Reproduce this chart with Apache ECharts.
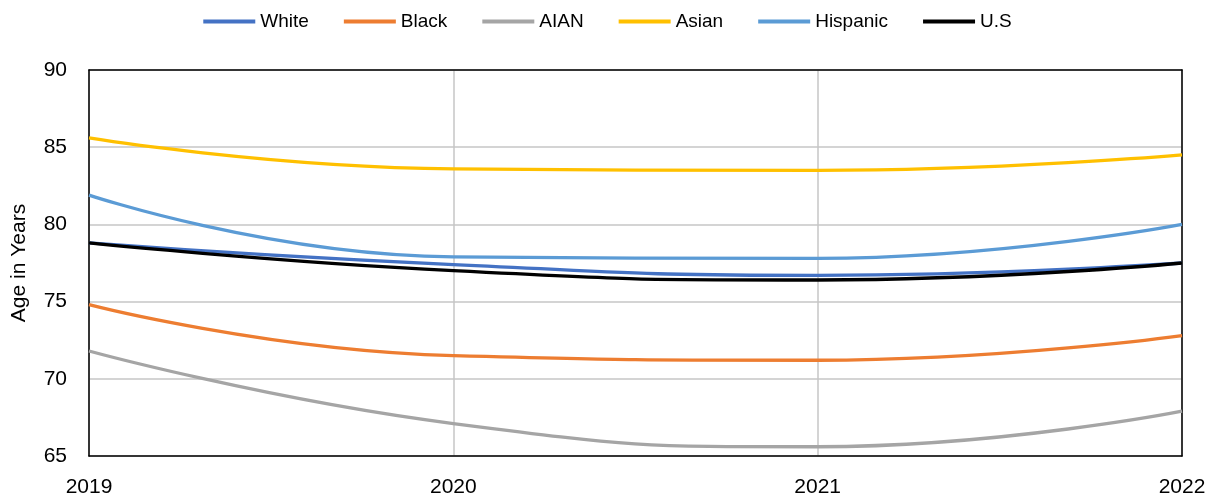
<!DOCTYPE html>
<html>
<head>
<meta charset="utf-8">
<script src="https://cdn.jsdelivr.net/npm/echarts@6/dist/echarts.min.js"></script>
<style>
  html, body { margin: 0; padding: 0; background: #fff; }
  #chart { width: 1215px; height: 500px; }
</style>
</head>
<body>
<div id="chart"></div>
<script>
const years = ['2019', '2020', '2021', '2022']

const white = [78.8, 77.4, 76.7, 77.5]
const black = [74.8, 71.5, 71.2, 72.8]
const aian = [71.8, 67.1, 65.6, 67.9]
const asian = [85.6, 83.6, 83.5, 84.5]
const hispanic = [81.9, 77.9, 77.8, 80.0]
const us = [78.8, 77.0, 76.4, 77.5]

const FONT = '"Liberation Sans", Arial, sans-serif'

const makeLine = (name, data, color) => ({
  name,
  type: 'line',
  data,
  smooth: 0.5,
  symbol: 'none',
  lineStyle: { width: 3.3, color },
  itemStyle: { color },
})

// 只画黑色边框的辅助轴
const frameLine = { show: true, lineStyle: { color: '#000', width: 1.5 } }

const chart = echarts.init(document.getElementById('chart'))

chart.setOption({
  backgroundColor: '#fff',
  animation: false,
  legend: {
    top: 7,
    left: 'center',
    itemWidth: 52,
    itemHeight: 4,
    itemGap: 35,
    icon: 'rect',
    textStyle: { fontFamily: FONT, fontSize: 19, color: '#000' },
    data: ['White', 'Black', 'AIAN', 'Asian', 'Hispanic', 'U.S'],
  },
  grid: {
    left: 89,
    right: 33,
    top: 70,
    bottom: 44,
    containLabel: false,
    outerBoundsMode: 'none',
  },
  xAxis: [
    {
      type: 'category',
      data: years,
      boundaryGap: false,
      axisLine: frameLine,
      axisTick: { show: false },
      axisLabel: { fontFamily: FONT, fontSize: 21, color: '#000', margin: 21 },
      splitLine: { show: true, lineStyle: { color: '#c6c6c6', width: 1.5 } },
    },
    {
      type: 'category',
      position: 'top',
      data: years,
      boundaryGap: false,
      axisLine: frameLine,
      axisTick: { show: false },
      axisLabel: { show: false },
      splitLine: { show: false },
    },
  ],
  yAxis: [
    {
      type: 'value',
      min: 65,
      max: 90,
      interval: 5,
      name: 'Age in Years',
      nameLocation: 'middle',
      nameGap: 59,
      nameTextStyle: { fontFamily: FONT, fontSize: 21, color: '#000' },
      axisLine: frameLine,
      axisTick: { show: false },
      axisLabel: { fontFamily: FONT, fontSize: 21, color: '#000', margin: 22 },
      splitLine: { lineStyle: { color: '#c6c6c6', width: 1.5 } },
    },
    {
      type: 'value',
      position: 'right',
      min: 65,
      max: 90,
      interval: 5,
      axisLine: frameLine,
      axisTick: { show: false },
      axisLabel: { show: false },
      splitLine: { show: false },
    },
  ],
  series: [
    makeLine('White', white, '#4472C4'),
    makeLine('Black', black, '#ED7D31'),
    makeLine('AIAN', aian, '#A5A5A5'),
    makeLine('Asian', asian, '#FFC000'),
    makeLine('Hispanic', hispanic, '#5B9BD5'),
    makeLine('U.S', us, '#000000'),
  ],
})
</script>
</body>
</html>
